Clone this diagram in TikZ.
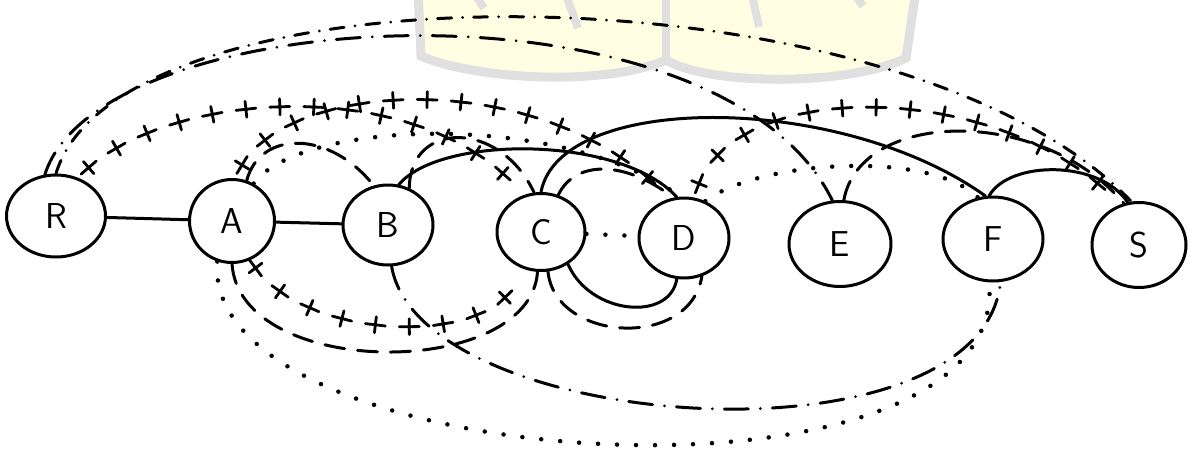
\documentclass[tikz,border=0pt]{standalone}
\usetikzlibrary{shapes.geometric,decorations.markings}
\definecolor{wmy}{RGB}{255,254,226}
\definecolor{wmg}{RGB}{224,224,224}
\begin{document}
\begin{tikzpicture}[x=1pt,y=-1pt,
  nd/.style={ellipse, draw, line width=3pt, inner sep=0pt, font=\sffamily\fontsize{36}{36}\selectfont},
  ln/.style={line width=3pt, line cap=round},
  dsh/.style={ln, dash pattern=on 20pt off 13pt},
  dtt/.style={line width=4.5pt, line cap=round, dash pattern=on 0pt off 19pt},
  dd/.style={ln, dash pattern=on 24pt off 12pt on 0pt off 12pt},
  ddo/.style={ln, dash pattern=on 14pt off 11pt on 0pt off 11pt},
  crs/.style={postaction={decorate}, decoration={markings,
     mark=between positions 0.03 and 0.97 step 34pt with {\draw[line width=2.8pt, line cap=round] (-10pt,0)--(10pt,0) (0,-8pt)--(0,8pt);}}}
]
\useasboundingbox (0,0) rectangle (1189,448);
\begin{scope}
\clip (0,0) rectangle (1189,448);
% watermark
\path[fill=wmy, draw=wmg, line width=9pt] (418,-10) -- (421,56) .. controls (470,78) and (600,88) .. (666,60) .. controls (710,86) and (850,86) .. (906,58) -- (916,-10) -- cycle;
\draw[wmg, line width=8pt] (666,-5) -- (666,60);
\draw[wmg, line width=8pt] (475,-5) -- (484,8);
\draw[wmg, line width=8pt] (566,-5) -- (578,28);
\draw[wmg, line width=8pt] (752,-5) -- (759,27);
\draw[wmg, line width=8pt] (855,-5) -- (863,6);
\end{scope}
% nodes
\node[nd, minimum width=99pt, minimum height=82pt] (R) at (56,216) {R};
\node[nd, minimum width=85pt, minimum height=83pt] (A) at (232,221) {A};
\node[nd, minimum width=90pt, minimum height=80pt] (B) at (388,225) {B};
\node[nd, minimum width=88pt, minimum height=77pt] (C) at (541,232) {C};
\node[nd, minimum width=90pt, minimum height=80pt] (D) at (684,238) {D};
\node[nd, minimum width=102pt, minimum height=85pt] (E) at (840,244) {E};
\node[nd, minimum width=100pt, minimum height=84pt] (F) at (993,239) {F};
\node[nd, minimum width=94pt, minimum height=85pt] (S) at (1139,245) {S};
% straight
\draw[ln] (R) -- (A);
\draw[ln] (A) -- (B);
\draw[dtt] (C) -- (D);
% top arcs
\draw[ddo] (R.90) .. controls (120,-40) and (900,-40) .. (S.100);
\draw[dd] (R.105) .. controls (100,0) and (720,-30) .. (E.100);
\path[crs] (R.60) .. controls (160,90) and (420,70) .. (C.115);
\path[crs] (A.85) .. controls (270,80) and (540,60) .. (D.110);
\path[crs] (D.75) .. controls (720,76) and (1000,76) .. (S.115);
\draw[dtt] (A.60) .. controls (300,120) and (560,110) .. (D.95);
\draw[dsh] (A.70) .. controls (260,130) and (330,130) .. (B.110);
\draw[ln] (B.75) .. controls (440,135) and (620,135) .. (D.100);
\draw[ln] (C.90) .. controls (560,92) and (840,92) .. (F.100);
\draw[ln] (F.95) .. controls (1010,160) and (1100,160) .. (S.105);
\draw[dtt] (D.60) .. controls (760,160) and (930,150) .. (F.110);
\draw[dsh] (E.85) .. controls (860,110) and (1040,105) .. (S.110);
\draw[dsh] (B.60) .. controls (410,120) and (500,120) .. (C.100);
\draw[dsh] (C.65) .. controls (575,160) and (625,160) .. (D.105);
% bottom arcs
\draw[ln] (C.-50) .. controls (590,315) and (670,322) .. (D.-100);
\draw[dsh] (C.-80) .. controls (555,342) and (690,350) .. (D.-65);
\path[crs] (A.-65) .. controls (300,345) and (510,350) .. (C.-120);
\draw[dsh] (A.-90) .. controls (240,380) and (530,380) .. (C.-95);
\draw[dd] (B.-85) .. controls (420,433) and (980,473) .. (F.-80);
\draw[dtt] (A.-110) .. controls (200,476) and (1010,527) .. (F.-95);
\end{tikzpicture}
\end{document}
